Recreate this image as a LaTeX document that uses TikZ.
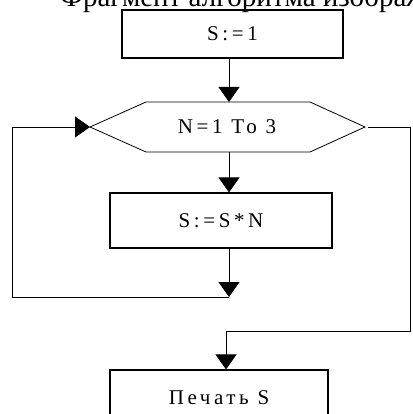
\documentclass[tikz,border=0pt]{standalone}
\usepackage{fontspec}
\setmainfont{Liberation Serif}
\newfontfamily\blokfont[LetterSpace=17]{Liberation Serif}
\usetikzlibrary{arrows.meta}

\tikzset{
    blok/.style={draw, line width=1.1pt, inner sep=0pt,
        font=\blokfont\fontsize{21}{21}\selectfont},
    strelka/.style={-{Triangle[length=15pt,width=21pt]}, line width=0.9pt},
    liniya/.style={line width=0.9pt},
}

\begin{document}
\begin{tikzpicture}[x=1pt, y=-1pt]
        % --- рамка ---
        \useasboundingbox (0,0) rectangle (412,414);
        \clip (0,0) rectangle (412,414);

        % --- заголовок (обрезан сверху) ---
        \node[anchor=base west, inner sep=0pt, font=\fontsize{29}{29}\selectfont] (zagolovok) at (60,7) {Фрагмент алгоритма изображ};

        % --- блоки ---
        \node[blok, minimum width=221pt, minimum height=48pt] (s1) at (232.5,34) {S:=1};
        \node[blok, minimum width=222pt, minimum height=55pt] (s2) at (221,220.5) {S:=S*N};
        \node[blok, minimum width=218pt, minimum height=55pt] (s3) at (219,397.5) {Печать S};

        % --- цикл (шестиугольник) ---
        \coordinate (hL) at (90,127);
        \coordinate (hR) at (365,127);
        \coordinate (hTop) at (229,102);
        \coordinate (hBot) at (229,152);
        \draw[line width=0.8pt] (hL) -- (146,102) -- (310,102) -- (hR) -- (310,152) -- (146,152) -- cycle;
        \node[font=\blokfont\fontsize{21}{21}\selectfont] (cikl) at (227,127) {N=1 To 3};

        % --- стрелки ---
        \draw[strelka] (s1.south -| hTop) -- (hTop);
        \draw[strelka] (hBot) -- (s2.north -| hBot);

        % возврат в начало цикла
        \coordinate (jn) at (229,297);
        \coordinate (lc) at (12,297);
        \draw[strelka] (s2.south -| jn) -- (jn);
        \draw[strelka] (jn) -- (lc) |- (hL);

        % выход из цикла
        \coordinate (vyh) at (368,127);
        \coordinate (rc) at (410,127);
        \coordinate (nz) at (226,331);
        \draw[liniya] (vyh) -- (rc) |- (nz);
        \draw[strelka] (nz) -- (s3.north -| nz);

    \end{tikzpicture}
\end{document}
